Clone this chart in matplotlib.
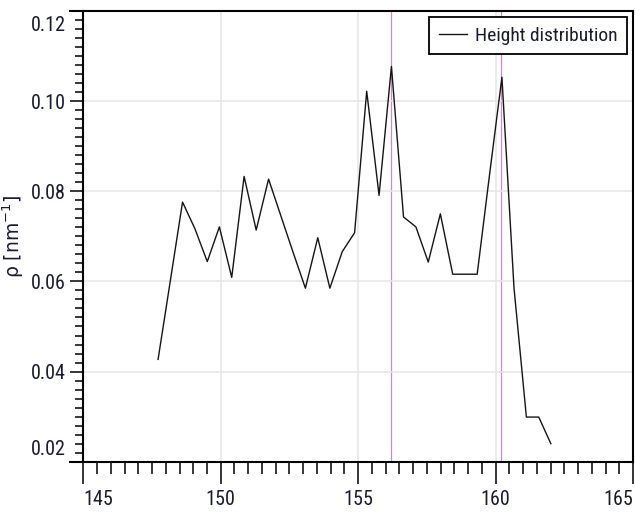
import numpy as np
import matplotlib
matplotlib.use("Agg")
import matplotlib.pyplot as plt
from matplotlib.ticker import MultipleLocator
from matplotlib.transforms import ScaledTranslation
from matplotlib.font_manager import FontProperties

# height histogram (bin centre in nm, density in 1/nm)
HEIGHT = [147.72, 148.17, 148.61, 149.06, 149.51, 149.95, 150.40, 150.85,
          151.29, 151.74, 152.19, 152.63, 153.08, 153.53, 153.97, 154.42,
          154.87, 155.31, 155.76, 156.21, 156.65, 157.10, 157.55, 157.99,
          158.44, 158.89, 159.33, 159.78, 160.23, 160.67, 161.12, 161.57,
          162.01]
RHO = [0.0427, 0.0603, 0.0776, 0.0717, 0.0644, 0.0721, 0.0609, 0.0833,
       0.0714, 0.0827, 0.0745, 0.0665, 0.0585, 0.0697, 0.0585, 0.0666,
       0.0708, 0.1022, 0.0791, 0.1077, 0.0743, 0.0721, 0.0643, 0.0750,
       0.0616, 0.0616, 0.0616, 0.0837, 0.1053, 0.0585, 0.0299, 0.0299,
       0.0240]
MARKERS = [156.19, 160.21]

XTICKS = [145, 150, 155, 160, 165]
YTICKS = [0.02, 0.04, 0.06, 0.08, 0.10, 0.12]
YTICK_LABELS = ["0.02", "0.04", "0.06", "0.08", "0.10", "0.12"]

FONT = ["Roboto Condensed", "DejaVu Sans"]
TEXT_COLOR = "#1a1a33"


def plotHeights():
    fig = plt.figure(figsize=(6.35, 5.15), dpi=100)
    ax = fig.add_axes([0.1312, 0.1035, 0.8657, 0.8751])

    ax.set_xlim(145, 165)
    ax.set_ylim(0.02, 0.12)

    ax.grid(True, color="#e6e6e6", linewidth=1.1, zorder=0)
    for m in MARKERS:
        ax.axvline(m, color="#c98cbd", linewidth=0.9, zorder=1)

    ax.plot(HEIGHT, RHO, color="#151515", linewidth=1.0, zorder=3,
            label="Height distribution")

    for s in ax.spines.values():
        s.set_linewidth(1.5)
    # top and bottom frame lines run out past the left axis
    for y in (0, 1):
        ax.plot([-0.0255, 0], [y, y], transform=ax.transAxes, color="black",
                linewidth=1.5, clip_on=False, solid_capstyle="butt")

    ax.set_xticks(XTICKS)
    ax.set_yticks(YTICKS)
    ax.set_yticklabels(YTICK_LABELS)
    ax.xaxis.set_minor_locator(MultipleLocator(0.5))
    ax.yaxis.set_minor_locator(MultipleLocator(0.002))
    ax.tick_params(axis="x", which="major", length=15.5, width=1.1, pad=5)
    ax.tick_params(axis="x", which="minor", length=8.8, width=1.1)
    ax.tick_params(axis="y", which="major", length=9.4, width=1.1, pad=3)
    ax.tick_params(axis="y", which="minor", length=5.8, width=1.1)
    for lab in ax.get_xticklabels() + ax.get_yticklabels():
        lab.set_family(FONT)
        lab.set_stretch("condensed")
        lab.set_weight("normal")
        lab.set_fontsize(14.5)
        lab.set_color(TEXT_COLOR)

    # keep the end labels inside the frame
    xt = ax.xaxis.get_major_ticks()
    xt[0].label1.set_horizontalalignment("left")
    xt[-1].label1.set_horizontalalignment("right")
    yt = ax.yaxis.get_major_ticks()
    lab = yt[0].label1
    lab.set_transform(lab.get_transform() + ScaledTranslation(0, 0.14, fig.dpi_scale_trans))
    lab = yt[-1].label1
    lab.set_transform(lab.get_transform() + ScaledTranslation(0, -0.12, fig.dpi_scale_trans))

    ax.set_ylabel("ρ [nm$^{\\mathregular{-1}}$]", fontsize=13.5, family=["DejaVu Sans"],
                  color=TEXT_COLOR)
    ax.yaxis.set_label_coords(-0.105, 0.5)

    legfont = FontProperties(family=FONT, stretch="condensed", weight="normal", size=14)
    leg = ax.legend(loc="upper right", fancybox=False, framealpha=1,
                    edgecolor="black", handlelength=1.45, handletextpad=0.4,
                    borderpad=0.5, borderaxespad=0.3, prop=legfont)
    leg.get_frame().set_linewidth(1.3)
    for t in leg.get_texts():
        t.set_color(TEXT_COLOR)

    fig.savefig("out.png", dpi=100)


def main():
    plotHeights()

if __name__ == "__main__":
    main()
